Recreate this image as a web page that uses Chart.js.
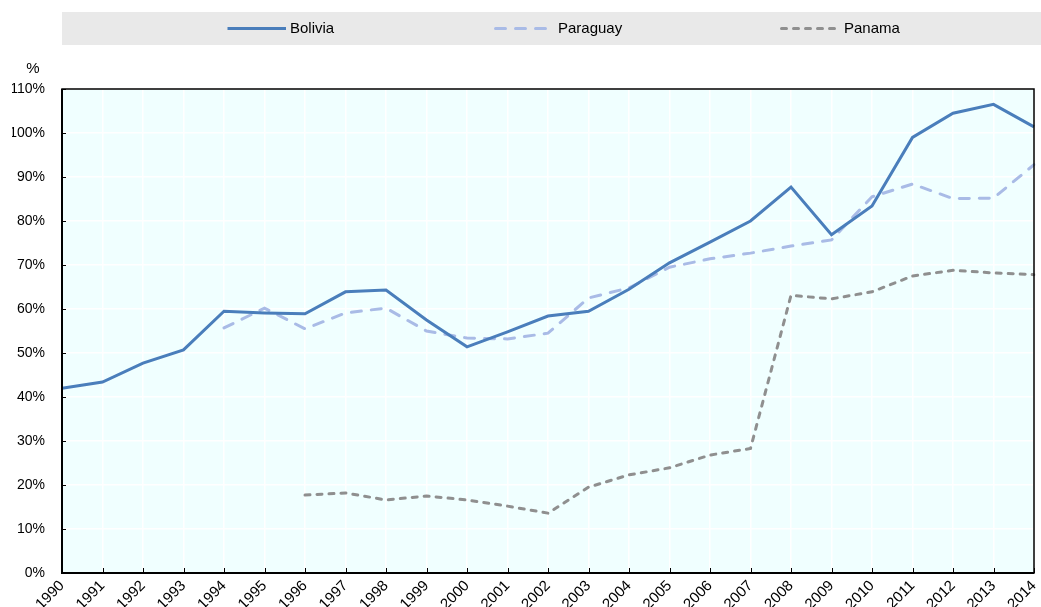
<!DOCTYPE html>
<html>
<head>
<meta charset="utf-8">
<script src="https://cdn.jsdelivr.net/npm/chart.js@4/dist/chart.umd.min.js"></script>
<style>
html, body { margin: 0; padding: 0; background: #fff; overflow: hidden; }
#wrap { width: 1041px; height: 607px; position: relative; overflow: hidden; }
canvas { display: block; }
</style>
</head>
<body>
<div id="wrap"><canvas id="chart" width="1041" height="607"></canvas></div>
<script>
// values, in %
const years = ['1990', '1991', '1992', '1993', '1994', '1995', '1996', '1997', '1998', '1999', '2000', '2001',
    '2002', '2003', '2004', '2005', '2006', '2007', '2008', '2009', '2010', '2011', '2012', '2013', '2014'];
const bolivia = [42.0, 43.4, 47.7, 50.7, 59.5, 59.1, 58.9, 63.9, 64.3, 57.5, 51.4, 54.8,
    58.4, 59.5, 64.5, 70.5, 75.2, 80.0, 87.7, 76.9, 83.4, 99.0, 104.5, 106.5, 101.4];
const paraguay = [null, null, null, null, 55.7, 60.2, 55.5, 59.1, 60.2, 55.0, 53.4, 53.2,
    54.5, 62.5, 64.8, 69.5, 71.4, 72.7, 74.3, 75.7, 85.5, 88.4, 85.1, 85.2, 92.8];
const panama = [null, null, null, null, null, null, 17.7, 18.2, 16.6, 17.5, 16.6, 15.2,
    13.6, 19.5, 22.3, 23.9, 26.8, 28.3, 63.1, 62.3, 63.9, 67.5, 68.8, 68.2, 67.8];
const seriesNames = ['Bolivia', 'Paraguay', 'Panama'];
const yMax = 110;

const FONT = "'Liberation Sans Narrow', 'Arial Narrow', 'Liberation Sans', sans-serif";

// grey band with the legend, drawn by hand like the original
const legendX = [226, 494, 780];
const legendBand = {
    id: 'legendBand',
    beforeDraw(chart) {
        let ctx = chart.ctx;
        ctx.save();
        ctx.fillStyle = '#e9e9e9';
        ctx.fillRect(62, 12, 979, 33);
        ctx.font = '15px ' + FONT;
        ctx.textBaseline = 'middle';
        chart.data.datasets.forEach(function (ds, i) {
            let x = legendX[i];
            ctx.strokeStyle = ds.borderColor;
            ctx.lineWidth = ds.borderWidth;
            ctx.lineCap = ds.borderCapStyle;
            ctx.setLineDash(ds.borderDash || []);
            ctx.beginPath();
            ctx.moveTo(x + 1.5, 28.5);
            ctx.lineTo(x + 60, 28.5);
            ctx.stroke();
            ctx.setLineDash([]);
            ctx.fillStyle = '#000';
            ctx.fillText(ds.label, x + 64, 29);
        });
        // plot background
        let a = chart.chartArea;
        ctx.fillStyle = '#f0ffff';
        ctx.fillRect(a.left, a.top, a.right - a.left, a.bottom - a.top);
        // unit
        ctx.fillStyle = '#000';
        ctx.textAlign = 'center';
        ctx.fillText('%', 33, 69);
        ctx.restore();
    },
    afterDraw(chart) {
        let ctx = chart.ctx;
        let a = chart.chartArea;
        ctx.save();
        // the original picture is cut off at the left edge
        ctx.fillStyle = '#fff';
        ctx.fillRect(0, 75, 12, 70);
        ctx.strokeStyle = '#000';
        ctx.lineWidth = 1.5;
        ctx.strokeRect(a.left, a.top, a.right - a.left, a.bottom - a.top);
        ctx.lineWidth = 2;
        ctx.beginPath();
        ctx.moveTo(a.left, a.top);
        ctx.lineTo(a.left, a.bottom);
        ctx.lineTo(a.right, a.bottom);
        ctx.stroke();
        // small inward ticks
        ctx.lineWidth = 1;
        let ys = chart.scales.y;
        ys.ticks.forEach(function (t) {
            let py = Math.round(ys.getPixelForValue(t.value)) + 0.5;
            ctx.beginPath();
            ctx.moveTo(a.left, py);
            ctx.lineTo(a.left + 4, py);
            ctx.stroke();
        });
        let xs = chart.scales.x;
        years.forEach(function (y, i) {
            let px = Math.round(xs.getPixelForValue(i)) + 0.5;
            ctx.beginPath();
            ctx.moveTo(px, a.bottom);
            ctx.lineTo(px, a.bottom - 5);
            ctx.stroke();
        });
        ctx.restore();
    }
};

let ctx = document.getElementById('chart').getContext('2d');
let chart = new Chart(ctx, {
    type: 'line',
    data: {
        labels: years,
        datasets: [{
            label: seriesNames[0],
            data: bolivia,
            borderColor: '#4a7ebb',
            borderWidth: 3,
            borderCapStyle: 'butt'
        }, {
            label: seriesNames[1],
            data: paraguay,
            borderColor: '#a9bbe6',
            borderWidth: 3,
            borderCapStyle: 'round',
            borderDash: [10, 10]
        }, {
            label: seriesNames[2],
            data: panama,
            borderColor: '#8f8f8f',
            borderWidth: 3,
            borderCapStyle: 'round',
            borderDash: [5, 7]
        }]
    },
    options: {
        responsive: false,
        animation: false,
        devicePixelRatio: 1,
        layout: { padding: { top: 89, right: 7, left: 0, bottom: 0 } },
        elements: {
            point: { radius: 0 },
            line: { tension: 0, fill: false }
        },
        plugins: {
            legend: { display: false },
            tooltip: { enabled: false }
        },
        scales: {
            x: {
                offset: false,
                grid: { color: '#ffffff', lineWidth: 1.5, drawTicks: false },
                border: { display: false },
                ticks: {
                    autoSkip: false,
                    minRotation: 45,
                    maxRotation: 45,
                    padding: 4,
                    color: '#000',
                    font: { family: FONT, size: 15 }
                },
                afterFit: function (scale) {
                    scale.height = 34;
                    scale.paddingLeft = 0;
                    scale.paddingRight = 0;
                }
            },
            y: {
                min: 0,
                max: yMax,
                grid: { color: '#ffffff', lineWidth: 1.5, drawTicks: false },
                border: { display: false },
                ticks: {
                    stepSize: 10,
                    padding: 17,
                    color: '#000',
                    font: { family: FONT, size: 14 },
                    callback: function (v) { return v + '%'; }
                },
                afterFit: function (scale) {
                    scale.width = 62;
                    scale.paddingTop = 0;
                    scale.paddingBottom = 0;
                }
            }
        }
    },
    plugins: [legendBand]
});
</script>
</body>
</html>
